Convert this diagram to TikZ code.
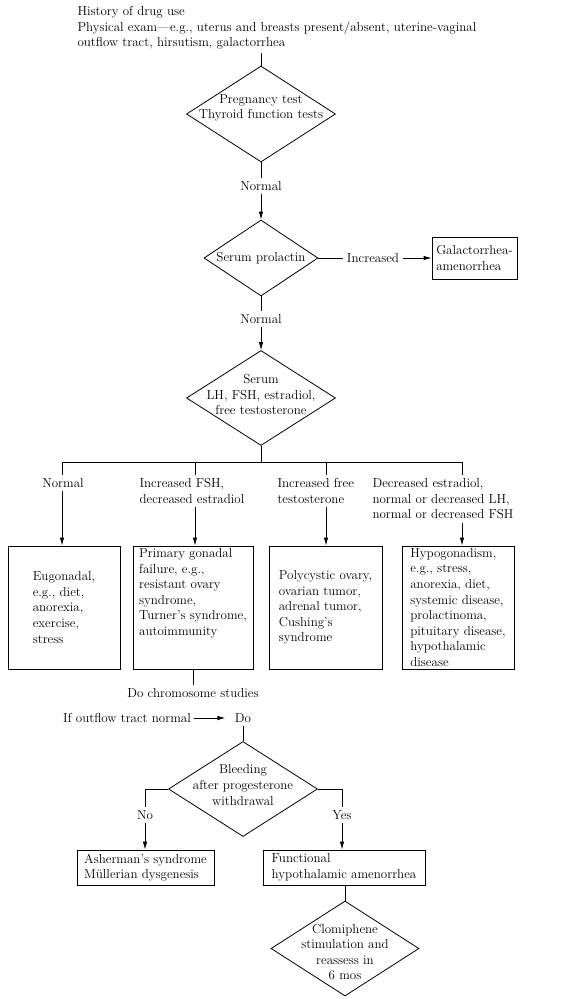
\documentclass[tikz,border=0pt]{standalone}
\usepackage{fontspec}
\usetikzlibrary{positioning, arrows.meta, shapes.geometric}

\begin{document}
\begin{tikzpicture}[
    x=1pt, y=-1pt,
    every node/.style={font=\fontsize{13}{15.6}\selectfont},
    decision/.style 2 args={draw, thick, diamond, inner sep=0pt,
                            minimum width=#1, minimum height=#2},
    outbox/.style 2 args={draw, thick, align=left, inner xsep=3pt, inner ysep=1pt,
                          minimum width=#1, minimum height=#2},
    >={Latex[length=8pt, width=4.5pt]},
  ]
  \useasboundingbox (0,0) rectangle (574,999);

  % History and first tests
  \node[anchor=west, align=left] (hist) at (74,28)
    {History of drug use\\Physical exam—e.g., uterus and breasts present/absent, uterine-vaginal\\outflow tract, hirsutism, galactorrhea};
  \node[decision={149pt}{96pt}] (preg) at (261,114) {};
  \node[align=center] (pregtxt) at (261,108) {Pregnancy test\\Thyroid function tests};
  \node (norm1) at (261,186) {Normal};

  % Prolactin
  \node[decision={114pt}{76pt}] (prol) at (261,258) {};
  \node (proltxt) at (261,258) {Serum prolactin};
  \node (incr) at (373,258) {Increased};
  \node[outbox={85pt}{42pt}] (galac) at (474.5,258) {Galactorrhea-\\amenorrhea};
  \node (norm2) at (261,319) {Normal};

  % Hormone panel
  \node[decision={149pt}{95pt}] (serum) at (261,398) {};
  \node[align=center] (serumtxt) at (261,394.5) {Serum\\LH, FSH, estradiol,\\free testosterone};
  \coordinate (bus) at (261,462);
  \coordinate (col1) at (62,462);
  \coordinate (col2) at (195,462);
  \coordinate (col3) at (326,462);
  \coordinate (col4) at (462,462);

  \node (lab1) at (63,483) {Normal};
  \node[anchor=west, align=left] (lab2) at (136,491) {Increased FSH,\\decreased estradiol};
  \node[anchor=west, align=left] (lab3) at (274,491) {Increased free\\testosterone};
  \node[anchor=west, align=left] (lab4) at (369,499) {Decreased estradiol,\\normal or decreased LH,\\normal or decreased FSH};

  % Diagnoses
  \node[outbox={112pt}{123pt}] (eugon) at (64,607.5)
    {Eugonadal,\\e.g., diet,\\anorexia,\\exercise,\\stress};
  \node[outbox={120pt}{123pt}] (primary) at (193,607.5)
    {Primary gonadal\\failure, e.g.,\\resistant ovary\\syndrome,\\Turner's syndrome,\\autoimmunity\\[15.6pt]~};
  \node[outbox={113pt}{123pt}] (pcos) at (325.5,607.5)
    {Polycystic ovary,\\ovarian tumor,\\adrenal tumor,\\Cushing's\\syndrome};
  \node[outbox={112pt}{123pt}] (hypo) at (458,607.5)
    {Hypogonadism,\\e.g., stress,\\anorexia, diet,\\systemic disease,\\prolactinoma,\\pituitary disease,\\hypothalamic\\disease};

  % Outflow tract
  \node (chrom) at (193,693) {Do chromosome studies};
  \node (ifout) at (127,718) {If outflow tract normal};
  \node (do) at (243,718) {Do};
  \node[decision={149pt}{95pt}] (bleed) at (243,789) {};
  \node[align=center] (bleedtxt) at (243,785) {Bleeding\\after progesterone\\withdrawal};
  \node (no) at (145,815) {No};
  \node (yes) at (342,815) {Yes};
  \node[outbox={137pt}{35pt}] (asher) at (145.5,867.5) {Asherman's syndrome\\Müllerian dysgenesis};
  \node[outbox={162pt}{35pt}] (func) at (344,867.5) {Functional\\hypothalamic amenorrhea};
  \node[decision={148pt}{95pt}] (clomi) at (345,948.5) {};
  \node[align=center] (clomitxt) at (345,952) {Clomiphene\\stimulation and\\reassess in\\6 mos};

  % Connections
  \draw[thick] (preg.north |- hist.south) -- (preg.north);
  \draw[thick] (preg.south) -- (norm1);
  \draw[->, thick] (norm1) -- (prol.north);
  \draw[thick] (prol.east) -- (incr);
  \draw[->, thick] (incr) -- (galac);
  \draw[thick] (prol.south) -- (norm2);
  \draw[->, thick] (norm2) -- (serum.north);
  \draw[thick] (serum.south) -- (bus);
  \draw[thick] (col1) -- (col4);
  \foreach \i/\b in {1/eugon, 2/primary, 3/pcos, 4/hypo} {
    \draw[thick] (col\i) -- (col\i |- lab\i.north);
    \draw[->, thick] (col\i |- lab\i.south) -- (col\i |- \b.north);
  }

  \draw[thick] (primary.south -| chrom) -- (chrom);
  \draw[->, thick, shorten >=6pt] (ifout) -- (do);
  \draw[thick] (do) -- (bleed.north);
  \draw[thick] (bleed.west) -| (no);
  \draw[thick] (bleed.east) -| (yes);
  \draw[->, thick] (no) -- (no |- asher.north);
  \draw[->, thick] (yes) -- (yes |- func.north);
  \draw[thick] (clomi.north |- func.south) -- (clomi.north);
\end{tikzpicture}
\end{document}
